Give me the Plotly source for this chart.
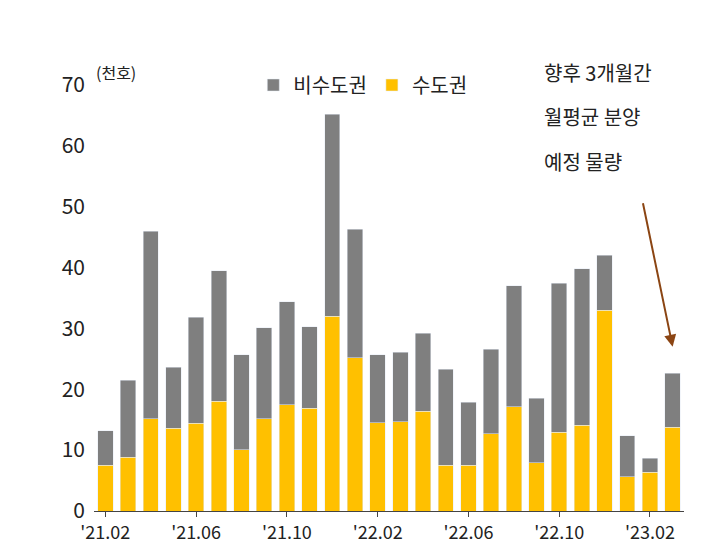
import plotly.graph_objects as go

cats = [str(i) for i in range(26)]
total = [13.2,21.5,46,23.6,31.8,39.5,25.7,30.1,34.4,30.3,65.2,46.3,25.7,26.1,29.2,23.3,17.9,26.6,37,18.5,37.4,39.8,42,12.4,8.7,22.6]
capital = [7.5,8.8,15.2,13.6,14.4,18,10.1,15.2,17.5,16.9,32,25.2,14.5,14.7,16.4,7.5,7.5,12.7,17.1,7.9,12.9,14.1,33,5.6,6.4,13.8]
noncap = [round(t-c,1) for t,c in zip(total,capital)]
tick_pos = ["0","4","8","12","16","20","24"]
tick_txt = ["'21.02","'21.06","'21.10","'22.02","'22.06","'22.10","'23.02"]
note_lines = ["향후 3개월간", "월평균 분양", "예정 물량"]

F = "Noto Sans CJK KR"
fig = go.Figure()
fig.add_bar(x=cats, y=capital, name="수도권", marker_color="#FFC000")
fig.add_bar(x=cats, y=noncap, name="비수도권", marker_color="#7F7F7F")
fig.update_layout(
    barmode="stack", bargap=0.32, width=716, height=551,
    plot_bgcolor="white", paper_bgcolor="white",
    margin=dict(l=86, r=40, t=77, b=48, autoexpand=False),
    font=dict(family=F, size=19, color="#222"),
    legend=dict(orientation="h", x=0.27, y=1.0, xanchor="left", yanchor="middle",
                traceorder="reversed", font=dict(size=20), itemwidth=30, bgcolor="rgba(0,0,0,0)"),
    xaxis=dict(type="category", tickvals=tick_pos, ticktext=tick_txt, showline=True,
               linecolor="#444", ticks="outside", ticklen=5, tickfont=dict(size=18)),
    yaxis=dict(range=[0,70], dtick=10, showgrid=False, zeroline=False, tickfont=dict(size=21),
               ticks="", ticklabelstandoff=8),
    showlegend=True,
)
fig.add_annotation(text="(천호)", xref="paper", yref="paper", x=0.0, y=1.03,
                   xanchor="left", yanchor="middle", showarrow=False, font=dict(size=16))
for i, t in enumerate(note_lines):
    fig.add_annotation(text=t, xref="paper", yref="paper", x=0.76, y=1.03 - i*0.105,
                       xanchor="left", yanchor="middle", showarrow=False, font=dict(size=20))
fig.add_annotation(x="25", y=27, xref="x", yref="y", ax=-30, ay=-145, axref="pixel", ayref="pixel",
                   showarrow=True, arrowhead=2, arrowsize=1.2, arrowwidth=2, arrowcolor="#8B4513", text="")
fig.write_html("out.html")
